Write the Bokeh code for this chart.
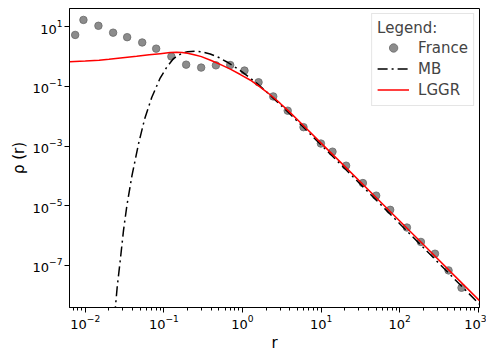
from bokeh.plotting import figure
from bokeh.models import Range1d, FixedTicker
from bokeh.embed import file_html
from bokeh.resources import INLINE

# France data points (r, rho)
fr_r = [0.00744, 0.00948, 0.0147, 0.0226, 0.0341, 0.0530, 0.0798, 0.1245, 0.192, 0.298,
        0.459, 0.698, 1.06, 1.60, 2.46, 3.76, 5.97, 9.94, 13.96, 20.8,
        34.0, 50.2, 75.7, 123.5, 186, 281, 418, 611]
fr_rho = [5.33, 17.0, 10.8, 6.35, 4.48, 2.98, 1.85, 1.01, 0.538, 0.429,
          0.510, 0.522, 0.341, 0.138, 0.0463, 0.0154, 0.00432, 0.00122, 0.000652, 0.000221,
          5.78e-5, 2.19e-5, 7.31e-6, 1.87e-6, 6.15e-7, 2.48e-7, 6.84e-8, 1.79e-8]

# MB curve
mb_r = [0.0236, 0.0255, 0.0278, 0.0306, 0.0338, 0.0392, 0.0475, 0.057, 0.07, 0.0897,
        0.109, 0.132, 0.169, 0.2, 0.25, 0.3, 0.388, 0.5, 0.634, 0.8,
        1.0, 1.5, 2.0, 3.0, 5.0, 10, 20, 50, 100, 200, 500, 1035]
mb_rho = [2.00e-9, 1.95e-8, 1.41e-7, 1.45e-6, 1.0e-5, 1.0e-4, 1.17e-3, 8.3e-3, 0.0427, 0.191,
          0.447, 0.851, 1.29, 1.45, 1.51, 1.45, 1.23, 0.933, 0.661, 0.447,
          0.302, 0.132, 0.0676, 0.0251, 6.76e-3, 1.10e-3, 1.78e-4, 1.58e-5, 2.51e-6, 3.98e-7, 3.47e-8, 5.01e-9]

# LGGR curve
lg_r = [0.0063, 0.01, 0.015, 0.02, 0.03, 0.045, 0.065, 0.09, 0.12, 0.145,
        0.17, 0.2, 0.25, 0.3, 0.4, 0.52, 0.7, 0.94, 1.3, 1.6,
        2.0, 2.48, 3.0, 3.78, 6.0, 10, 20, 50, 100, 200, 500, 1035]
lg_rho = [0.676, 0.716, 0.759, 0.813, 0.912, 1.023, 1.148, 1.259, 1.365, 1.396,
          1.380, 1.288, 1.135, 1.0, 0.741, 0.550, 0.380, 0.251, 0.155, 0.105,
          0.0676, 0.0427, 0.0275, 0.0158, 4.79e-3, 1.26e-3, 2.09e-4, 1.91e-5, 3.09e-6, 5.01e-7, 4.47e-8, 6.61e-9]

x_ticks = [1e-2, 1e-1, 1e0, 1e1, 1e2, 1e3]
y_ticks = [1e1, 1e-1, 1e-3, 1e-5, 1e-7]
x_minor = [m * t for t in [1e-3, 1e-2, 1e-1, 1e0, 1e1, 1e2] for m in range(2, 10)]

p = figure(width=486, height=354, x_axis_type="log", y_axis_type="log",
           x_range=Range1d(0.0063, 1035), y_range=Range1d(3.9e-9, 41),
           output_backend="svg", toolbar_location=None,
           min_border_left=69, min_border_right=7, min_border_top=8, min_border_bottom=41,
           x_axis_label="r", y_axis_label="ρ (r)")

p.scatter(fr_r, fr_rho, size=7.5, fill_color="#8c8c8c", line_color="#6a6a6a",
          line_width=0.8, legend_label="France")
p.line(mb_r, mb_rho, line_color="black", line_width=1.5, line_dash="10 4 2 4",
       legend_label="MB")
p.line(lg_r, lg_rho, line_color="#ff0000", line_width=1.5, legend_label="LGGR")

p.xgrid.grid_line_color = None
p.ygrid.grid_line_color = None
p.outline_line_color = "black"
p.outline_line_alpha = 1.0
p.outline_line_width = 1
p.background_fill_color = "white"
p.border_fill_color = "white"

p.xaxis.ticker = FixedTicker(ticks=x_ticks, minor_ticks=x_minor)
p.yaxis.ticker = FixedTicker(ticks=y_ticks, minor_ticks=[])

for ax in (p.xaxis, p.yaxis):
    ax.axis_line_color = "black"
    ax.major_tick_line_color = "black"
    ax.minor_tick_line_color = "black"
    ax.major_tick_out = 5
    ax.major_tick_in = 0
    ax.minor_tick_out = 3
    ax.minor_tick_in = 0
    ax.major_label_text_font = "DejaVu Sans"
    ax.major_label_text_font_size = "13px"
    ax.major_label_text_color = "black"
    ax.major_label_standoff = 2
    ax.axis_label_text_font = "DejaVu Sans"
    ax.axis_label_text_font_size = "15px"
    ax.axis_label_text_font_style = "normal"
    ax.axis_label_text_color = "black"
    ax.axis_label_standoff = 2

lg = p.legend[0]
lg.title = "Legend:"
lg.title_text_font = "DejaVu Sans"
lg.title_text_font_size = "15px"
lg.title_text_font_style = "normal"
lg.title_standoff = 0
lg.label_text_font = "DejaVu Sans"
lg.label_text_font_size = "15px"
lg.location = "top_right"
lg.margin = 5
lg.padding = 5
lg.spacing = 0
lg.label_height = 21
lg.glyph_height = 21
lg.glyph_width = 32
lg.label_standoff = 9
lg.border_line_color = "#cccccc"
lg.border_line_width = 1
lg.background_fill_alpha = 0.8

open("out.html", "w").write(file_html(p, INLINE))
